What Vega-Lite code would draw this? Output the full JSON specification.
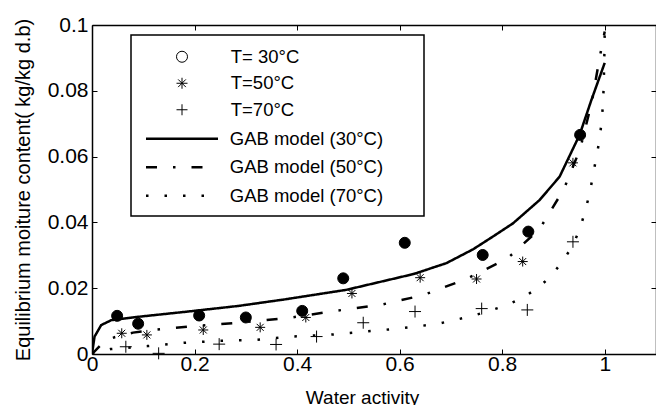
{
  "$schema": "https://vega.github.io/schema/vega-lite/v6.json",
  "width": 564,
  "height": 329,
  "autosize": {"type": "none"},
  "padding": {"left": 92, "top": 25, "right": 0, "bottom": 51},
  "background": "white",
  "config": {
    "view": {"stroke": null},
    "font": "Liberation Sans",
    "legend": {"strokeWidth": 1.5},
    "axis": {
      "grid": false,
      "domainColor": "black",
      "domainWidth": 1.5,
      "tickColor": "black",
      "tickWidth": 1,
      "tickSize": -5,
      "labelColor": "black",
      "labelFont": "Liberation Sans",
      "labelFlush": false,
      "labelOverlap": false,
      "labelBound": false,
      "titleColor": "black",
      "titleFont": "Liberation Sans",
      "titleFontWeight": "normal"
    }
  },
  "datasets": {
    "obs": [
      {"aw": 0.049, "m": 0.0116, "series": "T= 30°C"},
      {"aw": 0.090, "m": 0.0092, "series": "T= 30°C"},
      {"aw": 0.209, "m": 0.0117, "series": "T= 30°C"},
      {"aw": 0.300, "m": 0.0111, "series": "T= 30°C"},
      {"aw": 0.410, "m": 0.0131, "series": "T= 30°C"},
      {"aw": 0.490, "m": 0.0230, "series": "T= 30°C"},
      {"aw": 0.610, "m": 0.0338, "series": "T= 30°C"},
      {"aw": 0.762, "m": 0.0301, "series": "T= 30°C"},
      {"aw": 0.851, "m": 0.0372, "series": "T= 30°C"},
      {"aw": 0.952, "m": 0.0666, "series": "T= 30°C"},
      {"aw": 0.058, "m": 0.0063, "series": "T=50°C"},
      {"aw": 0.107, "m": 0.0058, "series": "T=50°C"},
      {"aw": 0.217, "m": 0.0073, "series": "T=50°C"},
      {"aw": 0.328, "m": 0.0081, "series": "T=50°C"},
      {"aw": 0.417, "m": 0.0111, "series": "T=50°C"},
      {"aw": 0.507, "m": 0.0184, "series": "T=50°C"},
      {"aw": 0.640, "m": 0.0232, "series": "T=50°C"},
      {"aw": 0.750, "m": 0.0228, "series": "T=50°C"},
      {"aw": 0.840, "m": 0.0281, "series": "T=50°C"},
      {"aw": 0.938, "m": 0.0581, "series": "T=50°C"},
      {"aw": 0.066, "m": 0.0022, "series": "T=70°C"},
      {"aw": 0.130, "m": 0.0002, "series": "T=70°C"},
      {"aw": 0.248, "m": 0.0030, "series": "T=70°C"},
      {"aw": 0.359, "m": 0.0029, "series": "T=70°C"},
      {"aw": 0.438, "m": 0.0053, "series": "T=70°C"},
      {"aw": 0.529, "m": 0.0095, "series": "T=70°C"},
      {"aw": 0.630, "m": 0.0129, "series": "T=70°C"},
      {"aw": 0.760, "m": 0.0138, "series": "T=70°C"},
      {"aw": 0.849, "m": 0.0134, "series": "T=70°C"},
      {"aw": 0.938, "m": 0.0341, "series": "T=70°C"}
    ],
    "gab": [
      {"aw": 0.0, "m": 0.0, "series": "GAB model (30°C)"},
      {"aw": 0.005, "m": 0.0053, "series": "GAB model (30°C)"},
      {"aw": 0.018, "m": 0.0088, "series": "GAB model (30°C)"},
      {"aw": 0.038, "m": 0.0103, "series": "GAB model (30°C)"},
      {"aw": 0.09, "m": 0.0113, "series": "GAB model (30°C)"},
      {"aw": 0.187, "m": 0.0129, "series": "GAB model (30°C)"},
      {"aw": 0.285, "m": 0.0146, "series": "GAB model (30°C)"},
      {"aw": 0.376, "m": 0.0166, "series": "GAB model (30°C)"},
      {"aw": 0.496, "m": 0.0195, "series": "GAB model (30°C)"},
      {"aw": 0.627, "m": 0.0243, "series": "GAB model (30°C)"},
      {"aw": 0.691, "m": 0.0276, "series": "GAB model (30°C)"},
      {"aw": 0.743, "m": 0.0318, "series": "GAB model (30°C)"},
      {"aw": 0.782, "m": 0.0357, "series": "GAB model (30°C)"},
      {"aw": 0.821, "m": 0.0397, "series": "GAB model (30°C)"},
      {"aw": 0.873, "m": 0.0468, "series": "GAB model (30°C)"},
      {"aw": 0.912, "m": 0.0539, "series": "GAB model (30°C)"},
      {"aw": 0.951, "m": 0.0666, "series": "GAB model (30°C)"},
      {"aw": 0.974, "m": 0.0772, "series": "GAB model (30°C)"},
      {"aw": 1.0, "m": 0.0885, "series": "GAB model (30°C)"},
      {"aw": 0.0, "m": 0.0, "series": "GAB model (50°C)"},
      {"aw": 0.025, "m": 0.0040, "series": "GAB model (50°C)"},
      {"aw": 0.044, "m": 0.0051, "series": "GAB model (50°C)"},
      {"aw": 0.08, "m": 0.0065, "series": "GAB model (50°C)"},
      {"aw": 0.124, "m": 0.0074, "series": "GAB model (50°C)"},
      {"aw": 0.21, "m": 0.0086, "series": "GAB model (50°C)"},
      {"aw": 0.30, "m": 0.0097, "series": "GAB model (50°C)"},
      {"aw": 0.385, "m": 0.0110, "series": "GAB model (50°C)"},
      {"aw": 0.474, "m": 0.0131, "series": "GAB model (50°C)"},
      {"aw": 0.562, "m": 0.0149, "series": "GAB model (50°C)"},
      {"aw": 0.646, "m": 0.0179, "series": "GAB model (50°C)"},
      {"aw": 0.73, "m": 0.0228, "series": "GAB model (50°C)"},
      {"aw": 0.81, "m": 0.0290, "series": "GAB model (50°C)"},
      {"aw": 0.873, "m": 0.0380, "series": "GAB model (50°C)"},
      {"aw": 0.92, "m": 0.0500, "series": "GAB model (50°C)"},
      {"aw": 0.952, "m": 0.0623, "series": "GAB model (50°C)"},
      {"aw": 0.975, "m": 0.0767, "series": "GAB model (50°C)"},
      {"aw": 0.99, "m": 0.0900, "series": "GAB model (50°C)"},
      {"aw": 1.0, "m": 0.0980, "series": "GAB model (50°C)"},
      {"aw": 0.0, "m": 0.0, "series": "GAB model (70°C)"},
      {"aw": 0.036, "m": 0.0015, "series": "GAB model (70°C)"},
      {"aw": 0.108, "m": 0.0024, "series": "GAB model (70°C)"},
      {"aw": 0.179, "m": 0.0034, "series": "GAB model (70°C)"},
      {"aw": 0.249, "m": 0.0040, "series": "GAB model (70°C)"},
      {"aw": 0.32, "m": 0.0043, "series": "GAB model (70°C)"},
      {"aw": 0.39, "m": 0.0053, "series": "GAB model (70°C)"},
      {"aw": 0.46, "m": 0.0058, "series": "GAB model (70°C)"},
      {"aw": 0.532, "m": 0.0068, "series": "GAB model (70°C)"},
      {"aw": 0.602, "m": 0.0078, "series": "GAB model (70°C)"},
      {"aw": 0.672, "m": 0.0091, "series": "GAB model (70°C)"},
      {"aw": 0.706, "m": 0.0103, "series": "GAB model (70°C)"},
      {"aw": 0.741, "m": 0.0115, "series": "GAB model (70°C)"},
      {"aw": 0.776, "m": 0.0132, "series": "GAB model (70°C)"},
      {"aw": 0.81, "m": 0.0149, "series": "GAB model (70°C)"},
      {"aw": 0.841, "m": 0.0172, "series": "GAB model (70°C)"},
      {"aw": 0.871, "m": 0.0202, "series": "GAB model (70°C)"},
      {"aw": 0.897, "m": 0.0240, "series": "GAB model (70°C)"},
      {"aw": 0.919, "m": 0.0284, "series": "GAB model (70°C)"},
      {"aw": 0.938, "m": 0.0331, "series": "GAB model (70°C)"},
      {"aw": 0.952, "m": 0.0382, "series": "GAB model (70°C)"},
      {"aw": 0.962, "m": 0.0436, "series": "GAB model (70°C)"},
      {"aw": 0.971, "m": 0.0490, "series": "GAB model (70°C)"},
      {"aw": 0.977, "m": 0.0544, "series": "GAB model (70°C)"},
      {"aw": 0.984, "m": 0.0600, "series": "GAB model (70°C)"},
      {"aw": 0.99, "m": 0.0653, "series": "GAB model (70°C)"},
      {"aw": 0.994, "m": 0.0708, "series": "GAB model (70°C)"},
      {"aw": 0.997, "m": 0.0767, "series": "GAB model (70°C)"},
      {"aw": 0.999, "m": 0.0880, "series": "GAB model (70°C)"},
      {"aw": 1.0, "m": 0.0985, "series": "GAB model (70°C)"}
    ]
  },
  "layer": [
    {
      "data": {"name": "gab"},
      "mark": {"type": "line", "color": "black", "strokeWidth": 2.5, "clip": true},
      "encoding": {
        "x": {
          "field": "aw", "type": "quantitative",
          "scale": {"domain": [0, 1.1], "nice": false, "zero": false},
          "axis": {
            "orient": "bottom",
            "values": [0, 0.2, 0.4, 0.6, 0.8, 1],
            "format": "~g",
            "title": "Water activity",
            "labelFontSize": 21,
            "labelPadding": 4,
            "titleFontSize": 19,
            "titleX": 270,
            "titleY": 49,
            "titleBaseline": "alphabetic"
          }
        },
        "y": {
          "field": "m", "type": "quantitative",
          "scale": {"domain": [0, 0.1], "nice": false},
          "axis": {
            "orient": "left",
            "values": [0, 0.02, 0.04, 0.06, 0.08, 0.1],
            "format": "~g",
            "title": "Equilibrium moiture content( kg/kg d.b)",
            "labelFontSize": 21,
            "labelPadding": 9,
            "titleFontSize": 20,
            "titleX": -63,
            "titleY": 164.5,
            "titleBaseline": "alphabetic"
          }
        },
        "strokeDash": {
          "field": "series", "type": "nominal",
          "scale": {
            "domain": ["GAB model (30°C)", "GAB model (50°C)", "GAB model (70°C)"],
            "range": [[1, 0], [11, 16, 2.5, 16], [2.5, 16]]
          },
          "legend": {
            "orient": "none",
            "legendX": 39,
            "legendY": 10,
            "title": ["\u200b\u00a0\u00a0\u00a0\u00a0\u00a0\u00a0\u00a0\u00a0\u00a0\u00a0\u00a0\u00a0\u00a0\u00a0\u00a0\u00a0\u00a0\u00a0\u00a0\u00a0\u00a0\u00a0\u00a0\u00a0\u00a0\u00a0\u00a0\u00a0\u00a0\u00a0\u00a0\u00a0\u00a0\u00a0\u00a0\u00a0\u00a0\u00a0\u00a0\u00a0\u00a0\u00a0\u00a0\u00a0\u00a0\u00a0\u00a0\u00a0\u00a0\u00a0\u00a0\u00a0\u00a0\u200b", "\u00a0", "\u00a0"],
            "titleFontSize": 18.5,
            "titleFont": "Liberation Sans",
            "titleLineHeight": 27,
            "titlePadding": 12,
            "titleLimit": 400,
            "strokeColor": "black",
            "fillColor": "transparent",
            "padding": 10,
            "labelFont": "Liberation Sans",
            "labelFontSize": 18.5,
            "labelColor": "black",
            "labelLimit": 400,
            "rowPadding": 9.5,
            "labelOffset": 38.5,
            "symbolOffset": 31.75,
            "symbolType": "M-6,0L6,0",
            "symbolSize": 144,
            "symbolStrokeWidth": 2.5,
            "symbolStrokeColor": "black"
          }
        }
      }
    },
    {
      "data": {"name": "obs"},
      "mark": {"type": "point", "filled": false, "color": "black", "strokeWidth": 1, "opacity": 1},
      "encoding": {
        "x": {
          "field": "aw", "type": "quantitative",
          "axis": {"orient": "top", "values": [0, 0.2, 0.4, 0.6, 0.8, 1], "labels": false, "title": null}
        },
        "y": {
          "field": "m", "type": "quantitative",
          "axis": {"orient": "right", "values": [0, 0.02, 0.04, 0.06, 0.08, 0.1], "labels": false, "title": null}
        },
        "shape": {
          "field": "series", "type": "nominal",
          "scale": {
            "domain": ["T= 30°C", "T=50°C", "T=70°C"],
            "range": ["circle", "M-1,0L1,0M0,-1L0,1M-0.7,-0.7L0.7,0.7M-0.7,0.7L0.7,-0.7", "M-1,0L1,0M0,-1L0,1"]
          },
          "legend": {
            "orient": "none",
            "legendX": 78,
            "legendY": 22.5,
            "title": null,
            "strokeColor": null,
            "fillColor": null,
            "padding": 0,
            "labelFont": "Liberation Sans",
            "labelFontSize": 18.5,
            "labelColor": "black",
            "labelLimit": 400,
            "rowPadding": 7.5,
            "labelOffset": 39.5,
            "symbolOffset": 2.75,
            "symbolSize": 121,
            "symbolStrokeWidth": 1,
            "symbolStrokeColor": "black",
            "symbolFillColor": "black"
          }
        },
        "fill": {
          "condition": {"test": "datum.series === 'T= 30°C'", "value": "black"},
          "value": "transparent"
        },
        "size": {
          "condition": [
            {"test": "datum.series === 'T= 30°C'", "value": 121},
            {"test": "datum.series === 'T=50°C'", "value": 100}
          ],
          "value": 144
        }
      }
    }
  ]
}
